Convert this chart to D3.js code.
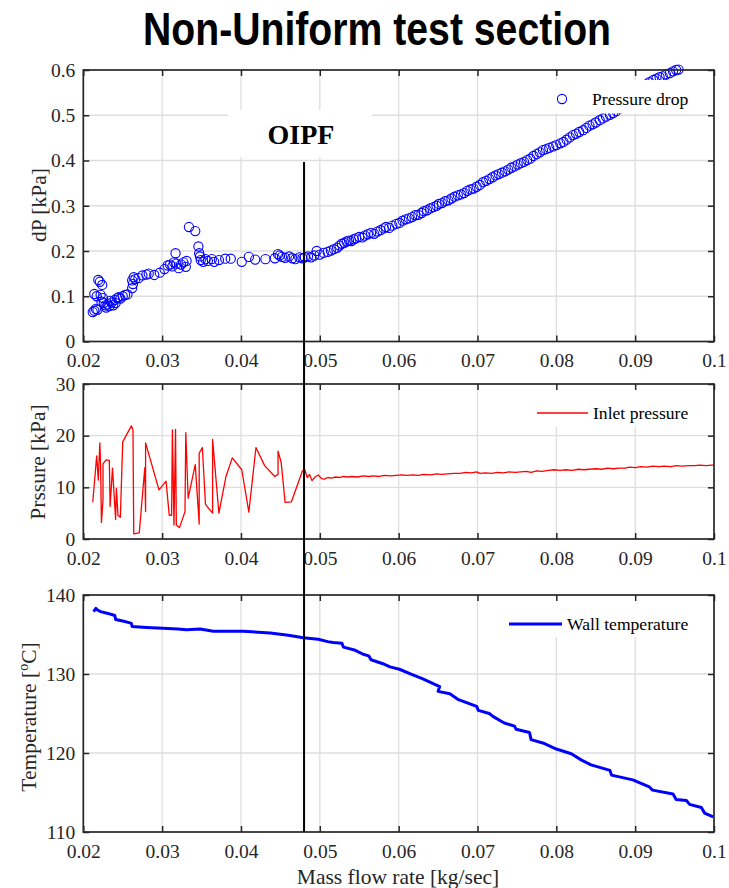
<!DOCTYPE html>
<html><head><meta charset="utf-8">
<script src="https://cdn.jsdelivr.net/npm/d3@7/dist/d3.min.js"></script>
<style>body{margin:0;background:#fff}svg{display:block}</style>
</head><body>
<svg id="chart" width="729" height="888"></svg>
<script>
// ---------- data ----------
const xTicks = [0.02,0.03,0.04,0.05,0.06,0.07,0.08,0.09,0.1];
const xTickLabels = ["0.02","0.03","0.04","0.05","0.06","0.07","0.08","0.09","0.1"];
const dpTicks = [0,0.1,0.2,0.3,0.4,0.5,0.6];
const dpTickLabels = ["0","0.1","0.2","0.3","0.4","0.5","0.6"];
const pTicks = [0,10,20,30];
const pTickLabels = ["0","10","20","30"];
const tTicks = [110,120,130,140];
const tTickLabels = ["110","120","130","140"];
const oipfFlow = 0.048;

// Pressure drop (scatter)
const dpFlow = [0.0212,0.0214,0.0216,0.0218,0.0214,0.0217,0.0219,0.0221,0.0222,0.0224,0.0225,0.0223,0.0226,0.0228,0.0229,0.0231,0.0233,0.0234,0.0236,0.0238,0.0240,0.0241,0.0243,0.0245,0.0247,0.0250,0.0253,0.0256,
0.0262,0.0263,0.0262,0.0264,0.0266,0.0270,0.0275,0.0280,0.0283,0.0290,0.0297,0.0303,0.0307,0.0310,0.0313,0.0315,0.0317,0.0318,0.0321,0.0324,0.0327,0.0330,0.0331,
0.0334,0.0342,0.0346,0.0347,0.0348,0.0349,0.0352,0.0355,0.0358,0.0363,0.0366,0.0372,0.0380,0.0387,0.0401,0.0410,0.0418,0.0431,0.0443,0.0447,0.0449,0.0452,0.0456,0.0461,0.0465,0.0469,0.0474,0.0478,0.0481,0.0485,0.0489,0.0493,0.0496,0.0500,
0.0505,0.0510,0.0514,0.0518,0.0522,0.0525,0.0528,0.0531,0.0534,0.0537,0.0540,0.0543,0.0546,0.0550,0.0554,0.0557,0.0561,0.0565,0.0569,0.0573,0.0577,0.0581,0.0584,0.0588,0.0592,0.0597,0.0601,0.0605,0.0609,0.0613,0.0617,0.0621,0.0625,0.0629,0.0632,0.0636,0.0640,0.0644,0.0648,0.0651,0.0655,0.0659,0.0663,0.0667,0.0671,0.0675,0.0679,0.0683,0.0687,0.0691,0.0695,0.0699,0.0703,0.0707,0.0711,0.0715,0.0719,0.0723,0.0727,0.0731,0.0735,0.0739,0.0743,0.0747,0.0751,0.0755,0.0759,0.0763,0.0767,0.0771,0.0775,0.0779,0.0783,0.0787,0.0791,0.0796,0.0800,0.0805,0.0809,0.0813,0.0817,0.0821,0.0825,0.0829,0.0834,0.0838,0.0842,0.0846,0.0850,0.0855,0.0859,0.0863,0.0868,0.0872,0.0876,0.0880,0.0885,0.0890,0.0895,0.0900,0.0905,0.0910,0.0914,0.0918,0.0923,0.0927,0.0931,0.0935,0.0939,0.0944,0.0948,0.0952,0.0955];
const dpValues = [0.065,0.068,0.072,0.070,0.105,0.100,0.136,0.132,0.103,0.125,0.096,0.088,0.085,0.080,0.075,0.082,0.078,0.090,0.086,0.080,0.092,0.085,0.096,0.098,0.095,0.100,0.103,0.104,
0.118,0.127,0.135,0.142,0.138,0.140,0.146,0.148,0.150,0.147,0.152,0.160,0.168,0.170,0.166,0.175,0.195,0.172,0.162,0.170,0.175,0.165,0.178,
0.253,0.244,0.210,0.195,0.188,0.180,0.176,0.182,0.178,0.182,0.176,0.180,0.183,0.183,0.176,0.187,0.181,0.182,0.184,0.193,0.190,0.187,0.185,0.188,0.184,0.182,0.186,0.184,0.186,0.188,0.186,0.190,0.200,0.192,
0.196,0.198,0.201,0.204,0.207,0.212,0.216,0.218,0.221,0.223,0.222,0.226,0.228,0.231,0.230,0.234,0.237,0.240,0.238,0.243,0.246,0.250,0.253,0.251,0.256,0.260,0.262,0.267,0.270,0.272,0.275,0.279,0.280,0.284,0.288,0.290,0.294,0.297,0.300,0.304,0.306,0.310,0.312,0.316,0.320,0.323,0.325,0.328,0.333,0.336,0.338,0.342,0.346,0.352,0.355,0.359,0.363,0.367,0.370,0.373,0.376,0.380,0.384,0.387,0.391,0.394,0.397,0.401,0.404,0.410,0.414,0.418,0.423,0.425,0.428,0.431,0.434,0.438,0.441,0.446,0.451,0.456,0.459,0.463,0.467,0.472,0.477,0.480,0.484,0.489,0.493,0.497,0.501,0.505,0.509,0.514,0.520,0.527,0.535,0.542,0.550,0.560,0.568,0.573,0.578,0.581,0.584,0.586,0.590,0.593,0.597,0.600,0.601];

// Inlet pressure (line)
const pFlow = [0.0212,0.0217,0.0219,0.0221,0.0222,0.0223,0.0225,0.0225,0.0229,0.0233,0.0234,0.0237,0.0241,0.0242,0.0244,0.0247,0.0250,0.0261,0.0263,0.0264,0.0271,0.0278,0.0279,0.0279,0.0296,0.0305,0.0309,0.0312,0.0313,0.0315,0.0317,0.0318,0.0322,0.0329,0.0330,0.0333,0.0342,0.0347,0.0347,0.0351,0.0355,0.0364,0.0364,0.0372,0.0381,0.0389,0.0401,0.0410,0.0419,0.0430,0.0443,0.0447,0.0447,0.0451,0.0456,0.0464,0.0478,0.0481,0.0484,0.0487,0.0490,0.0494,0.0498,0.0502,0.0506,
0.0510,0.0515,0.0520,0.0525,0.0530,0.0535,0.0540,0.0548,0.0555,0.0562,0.0568,0.0575,0.0582,0.0590,0.0597,0.0604,0.0610,0.0618,0.0625,0.0632,0.0640,0.0648,0.0655,0.0662,0.0670,0.0678,0.0685,0.0692,0.0699,0.0703,0.0710,0.0718,0.0725,0.0733,0.0740,0.0748,0.0755,0.0762,0.0768,0.0775,0.0782,0.0790,0.0797,0.0805,0.0812,0.0820,0.0828,0.0835,0.0842,0.0850,0.0858,0.0865,0.0872,0.0880,0.0887,0.0893,0.0900,0.0907,0.0915,0.0922,0.0930,0.0937,0.0945,0.0952,0.0960,0.0967,0.0975,0.0982,0.0990,0.0997,0.1000];
const pValues = [7.1,16.1,11.4,18.6,14.0,3.2,7.5,14.6,15.3,15.2,6.3,13.7,3.8,9.8,4.6,4.2,18.8,21.9,21.1,1.0,1.2,13.8,5.3,18.6,9.5,11.2,4.6,4.6,21.1,2.7,21.2,2.7,2.2,5.3,20.6,7.9,14.4,2.9,16.6,17.7,6.7,5.0,19.3,5.0,12.1,15.7,13.4,5.2,17.7,14.2,12.1,12.5,17.0,14.8,7.1,7.2,13.2,13.4,11.9,12.5,11.3,12.0,12.4,11.7,11.6,
11.9,11.8,12.0,11.9,12.1,12.0,12.1,12.0,12.2,12.1,12.2,12.1,12.3,12.2,12.3,12.4,12.3,12.4,12.3,12.5,12.4,12.6,12.5,12.6,12.7,12.7,12.9,12.8,13.0,12.7,12.8,12.7,12.9,12.8,13.0,12.9,13.0,13.1,12.9,13.2,13.1,13.3,13.4,13.3,13.4,13.3,13.5,13.4,13.5,13.6,13.5,13.7,13.6,13.7,13.7,13.9,13.8,14.0,13.9,14.1,14.0,14.1,14.0,14.2,14.1,14.2,14.2,14.3,14.2,14.3,14.3];

// Wall temperature (line)
const tFlow = [0.0213,0.0216,0.0218,0.0222,0.0230,0.0237,0.0240,0.0241,0.0250,0.0258,0.0261,0.0262,0.0280,0.0301,0.0320,0.0331,0.0348,0.0365,0.0403,0.0437,0.0460,0.0479,0.0498,0.0510,0.0517,0.0528,0.0530,0.0545,0.0555,0.0562,0.0565,0.0580,0.0589,0.0601,0.0618,0.0630,0.0639,0.0652,0.0650,0.0665,0.0675,0.0699,0.0701,0.0715,0.0720,0.0734,0.0747,0.0749,0.0766,0.0768,0.0785,0.0800,0.0819,0.0832,0.0844,0.0868,0.0870,0.0897,0.0918,0.0922,0.0948,0.0952,0.0965,0.0969,0.0984,0.0988,0.0999];
const tValues = [137.9,138.3,138.1,137.9,137.7,137.5,137.4,136.9,136.7,136.5,136.4,136.0,135.9,135.8,135.7,135.6,135.7,135.4,135.4,135.2,134.9,134.6,134.4,134.1,134.0,133.9,133.4,133.0,132.5,132.3,131.8,131.3,130.9,130.6,129.9,129.4,129.0,128.4,127.8,127.5,126.8,125.9,125.4,125.0,124.6,123.8,123.4,123.0,122.6,121.7,121.2,120.5,119.9,119.1,118.5,117.8,117.2,116.6,115.7,115.3,114.8,114.1,114.0,113.5,113.1,112.4,111.9];

// ---------- drawing ----------
const svg = d3.select("#chart");
const L = 83.3, R = 714;
const serif = "'Liberation Serif','Times New Roman',serif";
const axisCol = "#262626";
const x = d3.scaleLinear().domain([0.02,0.1]).range([L,R]);

function panel(cfg){
  const y = d3.scaleLinear().domain(cfg.domain).range([cfg.bottom,cfg.top]);
  const g = svg.append("g");
  // grid
  g.append("g").selectAll("line").data(xTicks.slice(1,-1)).join("line")
    .attr("x1",d=>x(d)).attr("x2",d=>x(d)).attr("y1",cfg.top).attr("y2",cfg.bottom)
    .attr("stroke","#dedede").attr("stroke-width",1.3);
  g.append("g").selectAll("line").data(cfg.ticks.slice(1,-1)).join("line")
    .attr("x1",L).attr("x2",R).attr("y1",d=>y(d)).attr("y2",d=>y(d))
    .attr("stroke","#dedede").attr("stroke-width",1.3);
  return {g,y};
}
function frame(cfg,y){
  const g = svg.append("g");
  const bx = d3.axisBottom(x).tickValues(xTicks).tickFormat((d,i)=>xTickLabels[i]).tickSizeInner(-6).tickSizeOuter(0).tickPadding(12);
  const gb = g.append("g").attr("transform",`translate(0,${cfg.bottom})`).call(bx);
  const tx = d3.axisTop(x).tickValues(xTicks).tickFormat("").tickSizeInner(-6).tickSizeOuter(0);
  const gt = g.append("g").attr("transform",`translate(0,${cfg.top})`).call(tx);
  const ly = d3.axisLeft(y).tickValues(cfg.ticks).tickFormat((d,i)=>cfg.labels[i]).tickSizeInner(-6).tickSizeOuter(0).tickPadding(8);
  const gl = g.append("g").attr("transform",`translate(${L},0)`).call(ly);
  const ry = d3.axisRight(y).tickValues(cfg.ticks).tickFormat("").tickSizeInner(-6).tickSizeOuter(0);
  const gr = g.append("g").attr("transform",`translate(${R},0)`).call(ry);
  [gb,gt,gl,gr].forEach(a=>{
    a.select(".domain").remove();
    a.selectAll(".tick line").attr("stroke",axisCol).attr("stroke-width",1.5);
    a.selectAll("text").attr("font-family",serif).attr("font-size",19.5).attr("fill",axisCol);
  });
  g.append("rect").attr("x",L).attr("y",cfg.top).attr("width",R-L).attr("height",cfg.bottom-cfg.top)
    .attr("fill","none").attr("stroke",axisCol).attr("stroke-width",1.7);
}

// Title
svg.append("text").attr("x",377).attr("y",45).attr("text-anchor","middle")
  .attr("font-family","'Liberation Sans Narrow','Arial Narrow','Liberation Sans',Arial,sans-serif")
  .attr("font-weight","bold").attr("font-size",46).attr("textLength",468).attr("lengthAdjust","spacingAndGlyphs")
  .text("Non-Uniform test section");

// ---- Panel 1: pressure drop
const c1 = {top:70,bottom:341.5,domain:[0,0.6],ticks:dpTicks,labels:dpTickLabels};
const p1 = panel(c1);
p1.g.append("g").selectAll("circle").data(dpFlow.map((f,i)=>[f,dpValues[i]])).join("circle")
  .attr("cx",d=>x(d[0])).attr("cy",d=>p1.y(d[1])).attr("r",4.6)
  .attr("fill","none").attr("stroke","#0000ff").attr("stroke-width",1.1);
// legend box + OIPF box
svg.append("rect").attr("x",545).attr("y",80).attr("width",168).attr("height",33.5).attr("fill","#fff");
svg.append("circle").attr("cx",562).attr("cy",99).attr("r",4.6).attr("fill","none").attr("stroke","#0000ff").attr("stroke-width",1.1);
svg.append("text").attr("x",592).attr("y",104.5).attr("font-family",serif).attr("font-size",17.6).attr("fill","#000").text("Pressure drop");
svg.append("rect").attr("x",228).attr("y",110).attr("width",144).attr("height",47).attr("fill","#fff");
svg.append("text").attr("x",301).attr("y",144).attr("text-anchor","middle").attr("font-family",serif)
  .attr("font-weight","bold").attr("font-size",28).attr("fill","#000").text("OIPF");
frame(c1,p1.y);

// ---- Panel 2: inlet pressure
const c2 = {top:384,bottom:539,domain:[0,30],ticks:pTicks,labels:pTickLabels};
const p2 = panel(c2);
svg.append("clipPath").attr("id","clip2").append("rect").attr("x",L).attr("y",c2.top).attr("width",R-L).attr("height",c2.bottom-c2.top);
p2.g.append("path").datum(pFlow.map((f,i)=>[f,pValues[i]])).attr("clip-path","url(#clip2)")
  .attr("d",d3.line().x(d=>x(d[0])).y(d=>p2.y(d[1])))
  .attr("fill","none").attr("stroke","#ff0000").attr("stroke-width",1.3).attr("stroke-linejoin","round");
svg.append("rect").attr("x",505).attr("y",385).attr("width",208).attr("height",42).attr("fill","#fff");
svg.append("line").attr("x1",537).attr("x2",588).attr("y1",413).attr("y2",413).attr("stroke","#ff0000").attr("stroke-width",1.3);
svg.append("text").attr("x",593).attr("y",418.5).attr("font-family",serif).attr("font-size",17.6).attr("fill","#000").text("Inlet pressure");
frame(c2,p2.y);

// ---- Panel 3: wall temperature
const c3 = {top:595,bottom:832,domain:[110,140],ticks:tTicks,labels:tTickLabels};
const p3 = panel(c3);
svg.append("clipPath").attr("id","clip3").append("rect").attr("x",L).attr("y",c3.top).attr("width",R-L).attr("height",c3.bottom-c3.top);
p3.g.append("path").datum(tFlow.map((f,i)=>[f,tValues[i]])).attr("clip-path","url(#clip3)")
  .attr("d",d3.line().x(d=>x(d[0])).y(d=>p3.y(d[1])))
  .attr("fill","none").attr("stroke","#0000ff").attr("stroke-width",3).attr("stroke-linejoin","round");
svg.append("rect").attr("x",490).attr("y",596).attr("width",223).attr("height",41).attr("fill","#fff");
svg.append("line").attr("x1",509).attr("x2",562).attr("y1",624).attr("y2",624).attr("stroke","#0000ff").attr("stroke-width",3);
svg.append("text").attr("x",567).attr("y",630).attr("font-family",serif).attr("font-size",17.6).attr("fill","#000").text("Wall temperature");
frame(c3,p3.y);

// OIPF vertical line across panels
svg.append("line").attr("x1",x(oipfFlow)).attr("x2",x(oipfFlow)).attr("y1",162).attr("y2",c3.bottom)
  .attr("stroke","#000").attr("stroke-width",2);

// Axis labels
function yLabel(xp,yp,txt){
  return svg.append("text").attr("transform",`translate(${xp},${yp}) rotate(-90)`).attr("text-anchor","middle")
    .attr("font-family",serif).attr("font-size",21.5).attr("fill",axisCol).text(txt);
}
yLabel(46,205,"dP [kPa]");
yLabel(45,462,"Prssure [kPa]");
const tl = yLabel(36,717,"");
tl.append("tspan").text("Temperature [");
tl.append("tspan").attr("font-size",14).attr("dy",-8).text("o");
tl.append("tspan").attr("dy",8).text("C]");
svg.append("text").attr("x",398).attr("y",884).attr("text-anchor","middle").attr("font-family",serif)
  .attr("font-size",21.5).attr("fill",axisCol).text("Mass flow rate [kg/sec]");
</script>
</body></html>
